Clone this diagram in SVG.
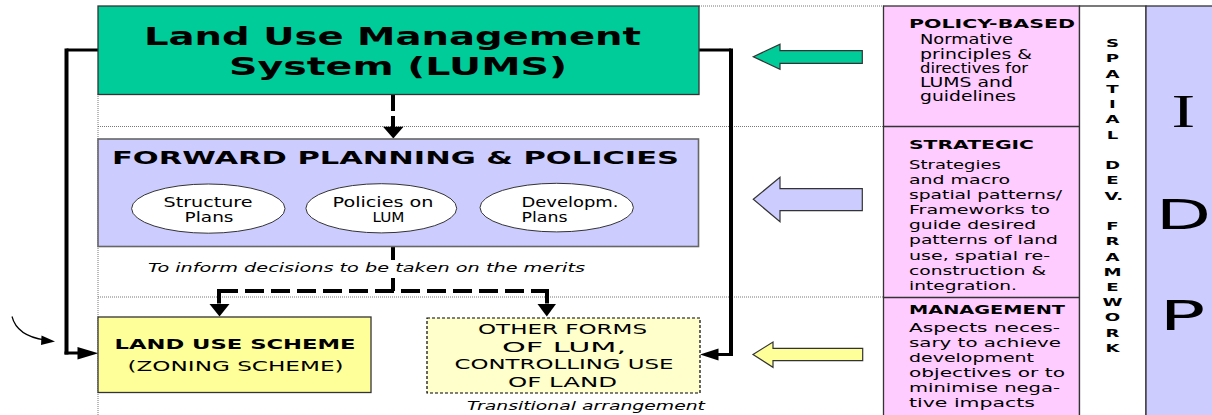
<svg xmlns="http://www.w3.org/2000/svg" width="1212" height="415" viewBox="0 0 1212 415">
  <style>
    .sans { font-family: "DejaVu Sans", Verdana, sans-serif; fill: #000; }
    .b { font-weight: bold; }
    .it { font-style: italic; }
    .guide { stroke: #777; stroke-width: 1; stroke-dasharray: 1 1; fill: none; }
    .frame { stroke: #333; stroke-width: 1.3; }
    .link { stroke: #000; fill: none; }
    .dash-v { stroke-width: 4; stroke-dasharray: 16 5; }
    .dash-h { stroke-width: 4; stroke-dasharray: 19 7; }
    .solid-v { stroke-width: 4; }
    .solid-h { stroke-width: 3; }
    .head { fill: #000; }
    .block { stroke: #333; stroke-width: 1.2; }
  </style>

  <rect width="1212" height="415" fill="#fff"/>

  <!-- dotted guide lines separating the three levels -->
  <g id="guides">
    <line class="guide" x1="699" y1="6" x2="884" y2="6"/>
    <line class="guide" x1="98" y1="126.5" x2="884" y2="126.5"/>
    <line class="guide" x1="98" y1="297" x2="884" y2="297"/>
    <line class="guide" x1="98" y1="94" x2="98" y2="415"/>
  </g>

  <!-- right-hand columns -->
  <g id="policy-column">
    <rect x="883.5" y="6" width="196" height="412" fill="#FFCCFF" class="frame"/>
    <line x1="883.5" y1="126.5" x2="1079.5" y2="126.5" class="frame"/>
    <line x1="883.5" y1="297.5" x2="1079.5" y2="297.5" class="frame"/>
  </g>

  <g id="policy-based">
    <text class="sans b" x="909" y="28.3" font-size="12.4" textLength="166" lengthAdjust="spacingAndGlyphs">POLICY-BASED</text>
    <g class="sans" font-size="13.5">
      <text x="920" y="44.3" textLength="93" lengthAdjust="spacingAndGlyphs">Normative</text>
      <text x="920" y="58.5" textLength="112" lengthAdjust="spacingAndGlyphs">principles &amp;</text>
      <text x="920" y="72.8" textLength="108" lengthAdjust="spacingAndGlyphs">directives for</text>
      <text x="920" y="87" textLength="93" lengthAdjust="spacingAndGlyphs">LUMS and</text>
      <text x="920" y="101.2" textLength="96" lengthAdjust="spacingAndGlyphs">guidelines</text>
    </g>
  </g>

  <g id="strategic">
    <text class="sans b" x="909" y="149.3" font-size="12" textLength="125" lengthAdjust="spacingAndGlyphs">STRATEGIC</text>
    <g class="sans" font-size="12.8">
      <text x="909" y="168.7" textLength="92" lengthAdjust="spacingAndGlyphs">Strategies</text>
      <text x="909" y="183.8" textLength="101" lengthAdjust="spacingAndGlyphs">and macro</text>
      <text x="909" y="199" textLength="153" lengthAdjust="spacingAndGlyphs">spatial patterns/</text>
      <text x="909" y="214.1" textLength="141" lengthAdjust="spacingAndGlyphs">Frameworks to</text>
      <text x="909" y="229.3" textLength="127" lengthAdjust="spacingAndGlyphs">guide desired</text>
      <text x="909" y="244.4" textLength="149" lengthAdjust="spacingAndGlyphs">patterns of land</text>
      <text x="909" y="259.6" textLength="141" lengthAdjust="spacingAndGlyphs">use, spatial re-</text>
      <text x="909" y="274.7" textLength="137" lengthAdjust="spacingAndGlyphs">construction &amp;</text>
      <text x="909" y="289.9" textLength="108" lengthAdjust="spacingAndGlyphs">integration.</text>
    </g>
  </g>

  <g id="management">
    <text class="sans b" x="909" y="314.3" font-size="12" textLength="156" lengthAdjust="spacingAndGlyphs">MANAGEMENT</text>
    <g class="sans" font-size="12.8">
      <text x="909" y="331.7" textLength="151" lengthAdjust="spacingAndGlyphs">Aspects neces-</text>
      <text x="909" y="346.7" textLength="152" lengthAdjust="spacingAndGlyphs">sary to achieve</text>
      <text x="909" y="361.7" textLength="125" lengthAdjust="spacingAndGlyphs">development</text>
      <text x="909" y="376.7" textLength="156" lengthAdjust="spacingAndGlyphs">objectives or to</text>
      <text x="909" y="391.7" textLength="151" lengthAdjust="spacingAndGlyphs">minimise nega-</text>
      <text x="909" y="406.7" textLength="126" lengthAdjust="spacingAndGlyphs">tive impacts</text>
    </g>
  </g>

  <!-- vertical SPATIAL DEV. FRAMEWORK strip -->
  <g id="sdf-column">
    <rect x="1079.5" y="6" width="66.5" height="412" fill="#fff" class="frame"/>
    <g class="sans b" font-size="11" text-anchor="middle" transform="translate(1112.5 0) scale(1.65 1)">
      <text x="0" y="47.2">S</text>
      <text x="0" y="62.4">P</text>
      <text x="0" y="77.7">A</text>
      <text x="0" y="92.9">T</text>
      <text x="0" y="108.2">I</text>
      <text x="0" y="123.4">A</text>
      <text x="0" y="138.6">L</text>
      <text x="0" y="169.1">D</text>
      <text x="0" y="184.4">E</text>
      <text x="0.8" y="199.6">V.</text>
      <text x="0" y="230.1">F</text>
      <text x="0" y="245.3">R</text>
      <text x="0" y="260.6">A</text>
      <text x="0" y="275.8">M</text>
      <text x="0" y="291">E</text>
      <text x="0" y="306.3">W</text>
      <text x="0" y="321.5">O</text>
      <text x="0" y="336.8">R</text>
      <text x="0" y="352">K</text>
    </g>
  </g>

  <!-- IDP strip -->
  <g id="idp-column">
    <rect x="1146" y="6" width="70" height="412" fill="#CCCCFF" class="frame"/>
    <text font-family="'Liberation Serif', 'Times New Roman', serif" font-size="46" text-anchor="middle" transform="translate(1183.3 127.3) scale(1.55 1)">I</text>
    <text class="sans" font-size="40" text-anchor="middle" transform="translate(1183.5 229) scale(1.8 1)">D</text>
    <text class="sans" font-size="40" text-anchor="middle" transform="translate(1182.5 329.5) scale(1.9 1)">P</text>
  </g>

  <!-- block arrows pointing from the policy column -->
  <g id="level-arrows">
    <path class="block" fill="#00CC99" d="M753.3 56.7 L780 44.3 L780 50.7 L862.3 50.7 L862.3 63.3 L780 63.3 L780 69.3 Z"/>
    <path class="block" fill="#CCCCFF" d="M753.3 199.3 L780 177.3 L780 188.7 L862.3 188.7 L862.3 210.7 L780 210.7 L780 221.7 Z"/>
    <path class="block" fill="#FFFF99" d="M753 354.5 L773 342 L773 348.3 L862.7 348.3 L862.7 360.7 L773 360.7 L773 367.3 Z"/>
  </g>

  <!-- connectors -->
  <g id="connectors">
    <!-- LUMS to forward planning -->
    <path class="link dash-v" d="M393 95 V127"/>
    <polygon class="head" points="383,126.7 403.5,126.7 393.3,138.5"/>

    <!-- forward planning to the two instruments -->
    <path class="link solid-v" d="M393 246.5 V260 M393 278 V291"/>
    <path class="link dash-h" d="M219 291 H547"/>
    <path class="link solid-v" d="M219 289 V303.5 M547 289 V303.5"/>
    <polygon class="head" points="209.5,304 229.5,304 219.5,316.5"/>
    <polygon class="head" points="537.5,304 556,304 546.8,316.5"/>

    <!-- LUMS direct control, left side -->
    <path class="link solid-h" d="M98 50 H66.5"/>
    <path class="link solid-v" d="M66.5 48.5 V354.5"/>
    <path class="link solid-h" d="M64.5 353 H80"/>
    <polygon class="head" points="77.5,347 77.5,359.5 98.3,353.3"/>

    <!-- LUMS direct control, right side -->
    <path class="link solid-h" d="M699 50 H731"/>
    <path class="link solid-v" d="M731 48.5 V356"/>
    <path class="link solid-h" d="M733 354.5 H716"/>
    <polygon class="head" points="718.5,348.5 718.5,360.5 700,354.5"/>

    <!-- small curved pointer -->
    <path class="link" stroke-width="1.2" d="M12 316.5 Q17 336 45 340"/>
    <polygon class="head" points="55,341.5 41.5,335.5 41,345"/>
  </g>

  <!-- Land Use Management System -->
  <g id="lums">
    <rect x="98" y="6" width="601" height="88.5" fill="#00CC99" class="frame"/>
    <text class="sans b" x="392.5" y="45" font-size="25" text-anchor="middle" textLength="497" lengthAdjust="spacingAndGlyphs">Land Use Management</text>
    <text class="sans b" x="398" y="75" font-size="25" text-anchor="middle" textLength="338" lengthAdjust="spacingAndGlyphs">System (LUMS)</text>
  </g>

  <!-- Forward planning and policies -->
  <g id="forward-planning">
    <rect x="98" y="139" width="600.5" height="107.5" fill="#CCCCFF" stroke="#666" stroke-width="1.6"/>
    <text class="sans b" x="395.5" y="164" font-size="18.5" text-anchor="middle" textLength="567" lengthAdjust="spacingAndGlyphs">FORWARD PLANNING &amp; POLICIES</text>
  </g>

  <g id="structure-plans">
    <ellipse cx="208.3" cy="208.6" rx="76.7" ry="24.6" fill="#fff" stroke="#333" stroke-width="1"/>
    <text class="sans" x="208" y="207.3" font-size="13.5" text-anchor="middle" textLength="89" lengthAdjust="spacingAndGlyphs">Structure</text>
    <text class="sans" x="209" y="221.7" font-size="13.5" text-anchor="middle" textLength="49" lengthAdjust="spacingAndGlyphs">Plans</text>
  </g>

  <g id="policies-on-lum">
    <ellipse cx="381.3" cy="208.3" rx="75.4" ry="24.6" fill="#fff" stroke="#333" stroke-width="1"/>
    <text class="sans" x="383" y="207.3" font-size="13.5" text-anchor="middle" textLength="101" lengthAdjust="spacingAndGlyphs">Policies on</text>
    <text class="sans" x="388.5" y="221.7" font-size="13.5" text-anchor="middle" textLength="32" lengthAdjust="spacingAndGlyphs">LUM</text>
  </g>

  <g id="development-plans">
    <ellipse cx="556.7" cy="207.6" rx="76.7" ry="24.3" fill="#fff" stroke="#333" stroke-width="1"/>
    <text class="sans" x="521.5" y="207.3" font-size="13.5" textLength="97" lengthAdjust="spacingAndGlyphs">Developm.</text>
    <text class="sans" x="521.5" y="221.7" font-size="13.5" textLength="46" lengthAdjust="spacingAndGlyphs">Plans</text>
  </g>

  <text class="sans it" x="148" y="271.7" font-size="12.5" textLength="437" lengthAdjust="spacingAndGlyphs">To inform decisions to be taken on the merits</text>

  <!-- Land use scheme -->
  <g id="land-use-scheme">
    <rect x="98" y="317" width="273" height="75.5" fill="#FFFF99" class="frame"/>
    <text class="sans b" x="235" y="349.3" font-size="13.7" text-anchor="middle" textLength="241" lengthAdjust="spacingAndGlyphs">LAND USE SCHEME</text>
    <text class="sans" x="235.5" y="370.5" font-size="14.5" text-anchor="middle" textLength="216" lengthAdjust="spacingAndGlyphs">(ZONING SCHEME)</text>
  </g>

  <!-- Other forms of land use management -->
  <g id="other-forms">
    <rect x="427" y="318" width="273" height="75" fill="#FFFFCC" stroke="#000" stroke-width="1.2" stroke-dasharray="3 2"/>
    <g class="sans" font-size="14.5" text-anchor="middle">
      <text x="562.5" y="334" textLength="169" lengthAdjust="spacingAndGlyphs">OTHER FORMS</text>
      <text x="564" y="351.7" textLength="124" lengthAdjust="spacingAndGlyphs">OF LUM,</text>
      <text x="564" y="369.3" textLength="219" lengthAdjust="spacingAndGlyphs">CONTROLLING USE</text>
      <text x="562.5" y="386.7" textLength="109" lengthAdjust="spacingAndGlyphs">OF LAND</text>
    </g>
    <text class="sans it" x="467" y="410" font-size="12.8" textLength="238" lengthAdjust="spacingAndGlyphs">Transitional arrangement</text>
  </g>
</svg>
